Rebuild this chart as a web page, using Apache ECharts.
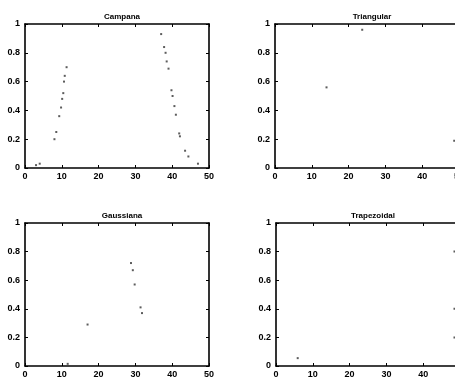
<!DOCTYPE html>
<html><head><meta charset="utf-8">
<script src="https://cdn.jsdelivr.net/npm/echarts@6/dist/echarts.min.js"></script>
<style>html,body{margin:0;padding:0;background:#fff}#c{width:455px;height:381px}</style>
</head><body><div id="c"></div>
<script>
// ---- data read from the (faded, scanned) reference: only visible points ----
const titles = ['Campana', 'Triangular', 'Gaussiana', 'Trapezoidal'];
const xTicks = [0, 10, 20, 30, 40, 50];
const yTicks = [0, 0.2, 0.4, 0.6, 0.8, 1];

const campanaX = [3, 4, 8, 8.5, 9.3, 9.8, 10.1, 10.4, 10.6, 10.8, 11.3,
                  37, 37.8, 38.2, 38.5, 39, 39.8, 40.1, 40.6, 41, 41.9, 42.1, 43.5, 44.4, 47];
const campanaY = [0.02, 0.03, 0.2, 0.25, 0.36, 0.42, 0.48, 0.52, 0.6, 0.64, 0.7,
                  0.93, 0.84, 0.8, 0.74, 0.69, 0.54, 0.5, 0.43, 0.37, 0.24, 0.22, 0.12, 0.08, 0.03];

const triangX = [14, 23.7, 48.7];
const triangY = [0.56, 0.96, 0.19];

const gaussX = [11.6, 17, 28.8, 29.3, 29.8, 31.4, 31.8];
const gaussY = [0.015, 0.29, 0.72, 0.67, 0.57, 0.41, 0.37];

const trapX = [5.9, 48.5, 48.5, 48.5];
const trapY = [0.055, 0.8, 0.4, 0.2];

const seriesX = [campanaX, triangX, gaussX, trapX];
const seriesY = [campanaY, triangY, gaussY, trapY];

// ---- layout ----
const grids = [
  {left: 25, top: 24, width: 184, height: 144},
  {left: 275, top: 24, width: 184, height: 144},
  {left: 25, top: 223, width: 184, height: 143},
  {left: 276, top: 223, width: 184, height: 143}
];
const font = 'Liberation Sans, Arial, sans-serif';
const lineStyle = {color: '#000', width: 1.6};

const option = {
  animation: false,
  backgroundColor: '#fff',
  title: [],
  grid: [],
  xAxis: [],
  yAxis: [],
  series: []
};

grids.forEach((g, i) => {
  option.grid.push(Object.assign({outerBoundsMode: 'none', containLabel: false}, g));
  option.title.push({
    text: titles[i],
    left: g.left + g.width / 2,
    top: g.top - 16,
    textAlign: 'center',
    textStyle: {fontFamily: font, fontSize: 8, fontWeight: 'bold', color: '#000'}
  });
  const xMin = xTicks[0], xMax = xTicks[xTicks.length - 1];
  const yMin = yTicks[0], yMax = yTicks[yTicks.length - 1];
  const base = {
    type: 'value', gridIndex: i,
    axisLine: {show: true, onZero: false, lineStyle},
    axisTick: {show: true, inside: true, length: 3, lineStyle: {color: '#000', width: 1}},
    splitLine: {show: false}
  };
  option.xAxis.push(Object.assign({}, base, {
    position: 'bottom', min: xMin, max: xMax, interval: xTicks[1] - xTicks[0],
    axisLabel: {show: true, margin: 4, fontFamily: font, fontSize: 9, fontWeight: 'bold', color: '#000', hideOverlap: false}
  }));
  option.xAxis.push(Object.assign({}, base, {
    position: 'top', min: xMin, max: xMax, interval: xTicks[1] - xTicks[0],
    axisLabel: {show: false}
  }));
  option.yAxis.push(Object.assign({}, base, {
    position: 'left', min: yMin, max: yMax, interval: yTicks[1] - yTicks[0],
    axisLabel: {show: true, margin: 5, fontFamily: font, fontSize: 9, fontWeight: 'bold', color: '#000', hideOverlap: false}
  }));
  option.yAxis.push(Object.assign({}, base, {
    position: 'right', min: yMin, max: yMax, interval: yTicks[1] - yTicks[0],
    axisLabel: {show: false}
  }));
  option.series.push({
    type: 'scatter', silent: true,
    xAxisIndex: 2 * i, yAxisIndex: 2 * i,
    symbol: 'rect', symbolSize: 2,
    itemStyle: {color: '#333'},
    data: seriesX[i].map((x, k) => [x, seriesY[i][k]])
  });
});

const chart = echarts.init(document.getElementById('c'), null, {renderer: 'canvas'});
chart.setOption(option);
</script>
</body></html>
